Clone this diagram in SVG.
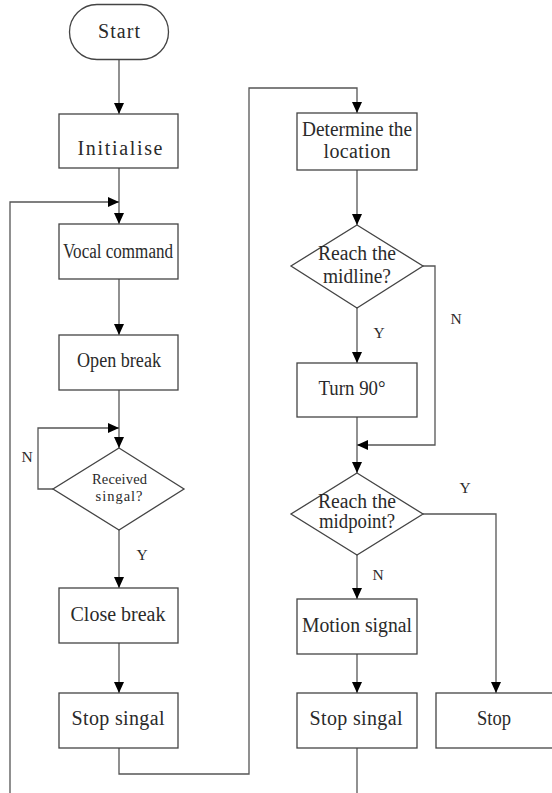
<svg xmlns="http://www.w3.org/2000/svg" width="552" height="793" viewBox="0 0 552 793">
  <defs>
    <marker id="arrow" markerUnits="userSpaceOnUse" markerWidth="11" markerHeight="10" refX="11" refY="5" orient="auto">
      <path d="M0,0 L11,5 L0,10 z" fill="#000"/>
    </marker>
    <style>
      .box { fill: #fff; stroke: #444; stroke-width: 1.3; }
      .wire { fill: none; stroke: #555; stroke-width: 1.3; }
      .txt { font-family: "Liberation Serif", "Times New Roman", serif; font-size: 20px; fill: #2a2a2a; text-anchor: middle; }
      .small { font-family: "Liberation Serif", "Times New Roman", serif; font-size: 14.5px; fill: #2a2a2a; text-anchor: middle; }
      .lbl { font-family: "Liberation Serif", "Times New Roman", serif; font-size: 15.5px; fill: #2a2a2a; text-anchor: middle; }
    </style>
  </defs>
  <rect width="552" height="793" fill="#fff"/>

  <!-- connectors -->
  <g id="connectors">
    <path class="wire" d="M119,59 V114" marker-end="url(#arrow)"/>
    <path class="wire" d="M119,168 V224" marker-end="url(#arrow)"/>
    <path class="wire" d="M10,793 V202 H119" marker-end="url(#arrow)"/>
    <path class="wire" d="M119,279 V335" marker-end="url(#arrow)"/>
    <path class="wire" d="M119,390 V448" marker-end="url(#arrow)"/>
    <path class="wire" d="M53,489 H38 V428 H119" marker-end="url(#arrow)"/>
    <path class="wire" d="M119,530 V588" marker-end="url(#arrow)"/>
    <path class="wire" d="M119,643 V693" marker-end="url(#arrow)"/>
    <path class="wire" d="M119,748 V774 H249 V88 H357 V113" marker-end="url(#arrow)"/>
    <path class="wire" d="M357,170 V225" marker-end="url(#arrow)"/>
    <path class="wire" d="M357,308 V363" marker-end="url(#arrow)"/>
    <path class="wire" d="M423,266 H435 V445 H357" marker-end="url(#arrow)"/>
    <path class="wire" d="M357,417 V473" marker-end="url(#arrow)"/>
    <path class="wire" d="M423,514 H496 V693" marker-end="url(#arrow)"/>
    <path class="wire" d="M357,555 V599" marker-end="url(#arrow)"/>
    <path class="wire" d="M357,654 V693" marker-end="url(#arrow)"/>
    <path class="wire" d="M357,748 V793"/>
    <text class="lbl" x="27" y="462">N</text>
    <text class="lbl" x="142" y="560">Y</text>
    <text class="lbl" x="456" y="324">N</text>
    <text class="lbl" x="379" y="338">Y</text>
    <text class="lbl" x="465" y="493">Y</text>
    <text class="lbl" x="378" y="580">N</text>
  </g>

  <g id="start">
    <rect class="box" x="69.5" y="4.5" width="99" height="55" rx="27.5" ry="27.5"/>
    <text class="txt" x="119" y="38" textLength="42">Start</text>
  </g>
  <g id="initialise">
    <rect class="box" x="59" y="114" width="119" height="54"/>
    <text class="txt" x="120" y="155" textLength="85">Initialise</text>
  </g>
  <g id="vocal-command">
    <rect class="box" x="59" y="224" width="119" height="55"/>
    <text class="txt" x="118" y="258" textLength="110" lengthAdjust="spacingAndGlyphs">Vocal command</text>
  </g>
  <g id="open-break">
    <rect class="box" x="59" y="335" width="119" height="55"/>
    <text class="txt" x="119" y="367" textLength="84" lengthAdjust="spacingAndGlyphs">Open break</text>
  </g>
  <g id="received-signal">
    <polygon class="box" points="119,448 184,489 119,530 53,489"/>
    <text class="small" x="119.5" y="484" textLength="55">Received</text>
    <text class="small" x="119" y="501" textLength="47">singal?</text>
  </g>
  <g id="close-break">
    <rect class="box" x="59" y="588" width="119" height="55"/>
    <text class="txt" x="118" y="621" textLength="95">Close break</text>
  </g>
  <g id="stop-signal-left">
    <rect class="box" x="59" y="693" width="119" height="55"/>
    <text class="txt" x="118" y="725" textLength="93">Stop singal</text>
  </g>
  <g id="determine-location">
    <rect class="box" x="297" y="113" width="120" height="57"/>
    <text class="txt" x="357" y="136" textLength="110" lengthAdjust="spacingAndGlyphs">Determine the</text>
    <text class="txt" x="357" y="158" textLength="67">location</text>
  </g>
  <g id="reach-midline">
    <polygon class="box" points="357,225 423,266 357,308 291,266"/>
    <text class="txt" x="357" y="260" textLength="78" lengthAdjust="spacingAndGlyphs">Reach the</text>
    <text class="txt" x="357" y="283" textLength="68" lengthAdjust="spacingAndGlyphs">midline?</text>
  </g>
  <g id="turn-90">
    <rect class="box" x="297" y="363" width="120" height="54"/>
    <text class="txt" x="352" y="395" textLength="67" lengthAdjust="spacingAndGlyphs">Turn 90°</text>
  </g>
  <g id="reach-midpoint">
    <polygon class="box" points="357,473 423,514 357,555 291,514"/>
    <text class="txt" x="357" y="508" textLength="78" lengthAdjust="spacingAndGlyphs">Reach the</text>
    <text class="txt" x="357" y="528" textLength="76" lengthAdjust="spacingAndGlyphs">midpoint?</text>
  </g>
  <g id="motion-signal">
    <rect class="box" x="297" y="599" width="120" height="55"/>
    <text class="txt" x="357" y="632" textLength="110" lengthAdjust="spacingAndGlyphs">Motion signal</text>
  </g>
  <g id="stop-signal-right">
    <rect class="box" x="297" y="693" width="120" height="55"/>
    <text class="txt" x="356" y="725" textLength="93">Stop singal</text>
  </g>
  <g id="stop">
    <rect class="box" x="436" y="693" width="120" height="55"/>
    <text class="txt" x="494" y="725" textLength="34" lengthAdjust="spacingAndGlyphs">Stop</text>
  </g>
</svg>
